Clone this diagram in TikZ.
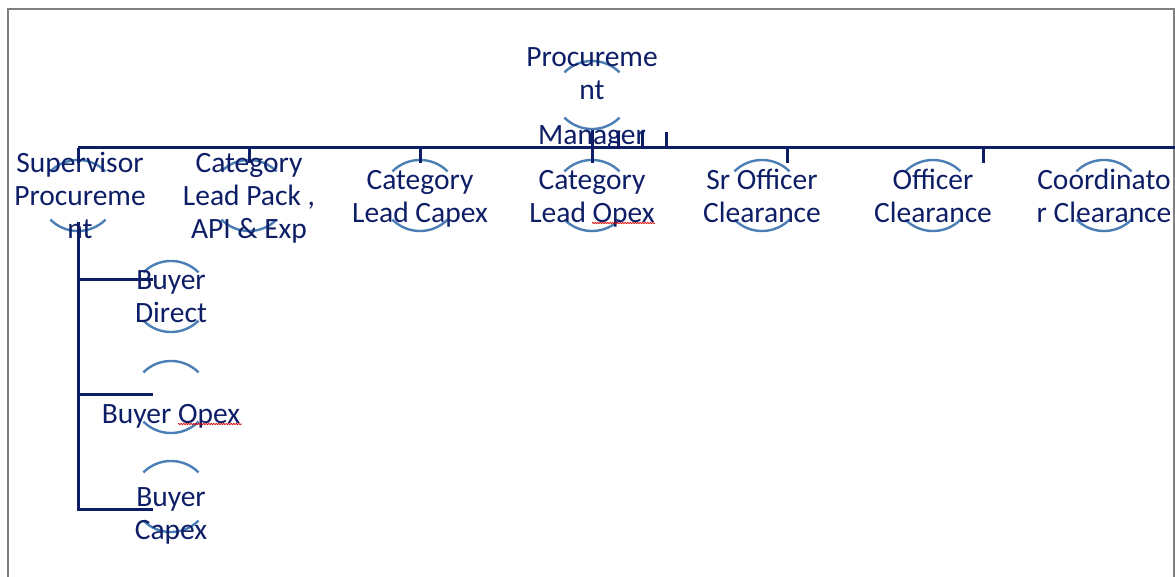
\documentclass[tikz,border=0pt]{standalone}
\usepackage{fontspec}
\setmainfont{Carlito}
\usetikzlibrary{decorations.pathmorphing}
\definecolor{navy}{RGB}{14,30,102}
\definecolor{ring}{RGB}{74,126,180}
\definecolor{framegray}{RGB}{128,128,128}
% pair of broken ring arcs round a label: centre x, top of upper arc, bottom of lower arc
\newcommand\ringpair[3]{%
  \draw[ringarc] ({#1-27.6},{#2+11.4}) arc[start angle=225,end angle=315,radius=39];
  \draw[ringarc] ({#1-27.6},{#3-11.4}) arc[start angle=135,end angle=45,radius=39];
}
\begin{document}
\begin{tikzpicture}[x=1pt,y=-1pt,
  lbl/.style={text=navy, font=\fontsize{29.5}{33}\selectfont, align=center, inner sep=0pt, anchor=base},
  link/.style={draw=navy, line width=3pt},
  ringarc/.style={draw=ring, line width=2.4pt},
  spell/.style={draw=red!85!black, line width=0.7pt, decorate,
    decoration={snake, amplitude=0.7pt, segment length=2.5pt}}]
\useasboundingbox (0,0) rectangle (1175,577);
\clip (0,0) rectangle (1175,577);
\draw[framegray, line width=1.4pt] (8,9) rectangle (1174,620);

% rings
\ringpair{592}{61}{129}
\ringpair{78}{160}{231}
\ringpair{249}{160}{231}
\ringpair{420}{160}{231}
\ringpair{592}{160}{231}
\ringpair{762}{160}{231}
\ringpair{933}{160}{231}
\ringpair{1104}{160}{231}
\ringpair{171}{261}{332}
\ringpair{171}{361}{433}
\ringpair{171}{461}{532}

% connectors
\coordinate (busL) at (78,148);
\coordinate (busR) at (1175,148);
\coordinate (tkA) at (249,148);
\coordinate (tkB) at (420,148);
\coordinate (tkC) at (787,148);
\coordinate (tkD) at (983,148);
\coordinate (tkE) at (618,148);
\coordinate (tkF) at (642,148);
\coordinate (tkG) at (666,148);
\coordinate (stemTop) at (592,130);
\coordinate (stemBot) at (592,163);
\coordinate (supStem) at (78,222);
\coordinate (brA) at (153,280);
\coordinate (brB) at (153,394);
\coordinate (brC) at (153,509);
\draw[link] (busL) -- (busR);
\draw[link] (busL) -- ++(0,15);
\foreach \t in {tkA,tkB,tkC,tkD} \draw[link] (\t) -- ++(0,15);
\foreach \t in {tkE,tkF,tkG} \draw[link] (\t) -- ++(0,-16);
\draw[link] (stemTop) -- (stemBot);
\draw[link] (supStem) |- (brC);
\draw[link] (supStem |- brA) -- (brA);
\draw[link] (supStem |- brB) -- (brB);

% labels (anchored on the baseline of their last line)
\node[lbl] (mgr) at (592,145) {Procureme\\nt\\[12pt]Manager};
\node[lbl] (sup) at (80,239) {Supervisor\\Procureme\\nt};
\node[lbl] (clpack) at (249,239) {Category\\Lead Pack ,\\API \& Exp};
\node[lbl] (clcapex) at (420,223) {Category\\Lead Capex};
\node[lbl] (clopex) at (592,223) {Category\\Lead Opex};
\node[lbl] (sroff) at (762,223) {Sr Officer\\Clearance};
\node[lbl] (off) at (933,223) {Officer\\Clearance};
\node[lbl] (coord) at (1104,223) {Coordinato\\r Clearance};
\node[lbl] (bdirect) at (171,323) {Buyer\\Direct};
\node[lbl] (bopex) at (171,423) {Buyer Opex};
\node[lbl] (bcapex) at (171,539) {Buyer\\Capex};

% spelling marks
\coordinate (spA) at (592,223);
\coordinate (spB) at (655,223);
\coordinate (spC) at (178,424);
\coordinate (spD) at (242,424);
\draw[spell] (spA) -- (spB);
\draw[spell] (spC) -- (spD);
\end{tikzpicture}
\end{document}
